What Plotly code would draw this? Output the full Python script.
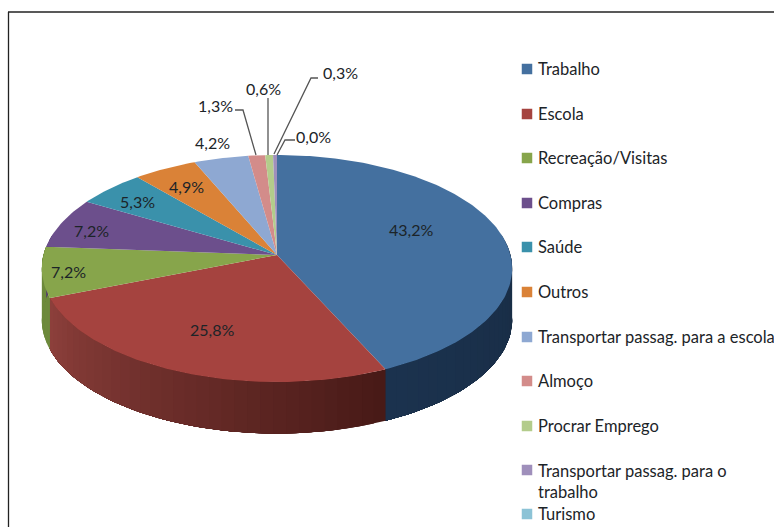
import math
import plotly.graph_objects as go

categories = ["Trabalho", "Escola", "Recreação/Visitas", "Compras", "Saúde", "Outros",
              "Transportar passag. para a escola", "Almoço", "Procrar Emprego",
              "Transportar passag. para o<br>trabalho", "Turismo"]
values = [43.2, 25.8, 7.2, 7.2, 5.3, 4.9, 4.2, 1.3, 0.6, 0.3, 0.0]
labels = ["43,2%", "25,8%", "7,2%", "7,2%", "5,3%", "4,9%", "4,2%", "1,3%", "0,6%", "0,3%", "0,0%"]
colors = ["#44709f", "#a5433f", "#87a54b", "#6c4f8c", "#3a91ab", "#da8237",
          "#8ea8d2", "#d38c8a", "#b3cc8b", "#9f8fbb", "#8cc3d6"]
side_left = ["#1b324e", "#8c3f3b", "#6d8a3c", "#50386c", "#2a6f85", "#a8612a",
             "#6c84a8", "#a86a68", "#8ca468", "#7a6c94", "#6a9aaa"]
side_right = ["#182c44", "#481a17", "#6d8a3c", "#50386c", "#2a6f85", "#a8612a",
              "#6c84a8", "#a86a68", "#8ca468", "#7a6c94", "#6a9aaa"]
label_x = [411, 212, 68, 91, 137, 186, 212, 215, 263, 340, 313]
label_y = [229, 329, 271, 230, 201, 186, 142, 105, 88, 72, 136]
legend_y = [69, 114, 158, 203, 247, 292, 337, 381, 426, 470, 514]
legend_text_y = [69, 114, 158, 203, 247, 292, 337, 381, 426, 481, 514]
leaders = [[(256, 155), (243, 110), (235, 110)],
           [(268, 155), (268, 98)],
           [(274, 154), (311, 78), (318, 78)],
           [(277, 155), (285, 140), (295, 140)]]

CX, CY, RX, RY, K, DEPTH = 277.0, 255.0, 233.5, 111.9, 0.119, 51.5
FONT = "Lato, Carlito, Calibri, sans-serif"
TEXT = "#1c2428"


def project(frac):
    a = 2 * math.pi * frac
    u, v = math.sin(a), math.cos(a)
    w = 1 + K * v
    return CX + RX * u / w, CY - RY * v / w


def hex_mix(c1, c2, t):
    p = [int(c1[i:i + 2], 16) for i in (1, 3, 5)]
    q = [int(c2[i:i + 2], 16) for i in (1, 3, 5)]
    return "#" + "".join(f"{round(a + (b - a) * t):02x}" for a, b in zip(p, q))


fig = go.Figure()
total = sum(values)

spans = []
acc = 0.0
for v in values:
    spans.append((acc / total, (acc + v) / total))
    acc += v


def poly(xs, ys, color):
    fig.add_trace(go.Scatter(x=xs, y=ys, mode="lines", fill="toself", fillcolor=color,
                             line=dict(color=color, width=0),
                             hoverinfo="skip", showlegend=False))


# side wall: each strip runs on to the end of its slice, so the next one overpaints it without seams
for i, (s, e) in enumerate(spans):
    if e <= s or e <= 0.22 or s >= 0.78:
        continue
    s2, e2 = max(s, 0.22), min(e, 0.78)
    n = max(2, int((e2 - s2) * 130))
    for j in range(n):
        f0 = s2 + (e2 - s2) * j / n
        m = max(2, int((e2 - f0) * 200))
        pts = [project(f0 + (e2 - f0) * t / m) for t in range(m + 1)]
        xs = [p[0] for p in pts]
        ys = [p[1] for p in pts]
        col = hex_mix(side_right[i], side_left[i], j / max(1, n - 1))
        poly(xs + xs[::-1] + xs[:1], ys + [y + DEPTH for y in ys[::-1]] + ys[:1], col)

# top surface
for i, (s, e) in enumerate(spans):
    if e <= s:
        continue
    n = max(3, int((e - s) * 360))
    pts = [project(s + (e - s) * j / n) for j in range(n + 1)]
    xs = [CX] + [p[0] for p in pts] + [CX]
    ys = [CY] + [p[1] for p in pts] + [CY]
    poly(xs, ys, colors[i])

# legend swatches
for name, c, y in zip(categories, colors, legend_y):
    fig.add_trace(go.Scatter(x=[527], y=[y], mode="markers", cliponaxis=False,
                             marker=dict(symbol="square", size=10.5, color=c),
                             hoverinfo="skip", showlegend=False, name=name))

annotations = []
for name, y in zip(categories, legend_text_y):
    annotations.append(dict(x=536, y=y, text=name, showarrow=False, xanchor="left", yanchor="middle",
                            align="left", font=dict(family=FONT, size=16.5, color=TEXT)))
for t, x, y in zip(labels, label_x, label_y):
    annotations.append(dict(x=x, y=y, text=t, showarrow=False, xanchor="center", yanchor="middle",
                            font=dict(family=FONT, size=16, color=TEXT)))

for pts in leaders:
    fig.add_trace(go.Scatter(x=[p[0] for p in pts], y=[p[1] for p in pts], mode="lines",
                             line=dict(color="#555555", width=1.3), hoverinfo="skip", showlegend=False))

shapes = [dict(type="line", x0=8.5, x1=8.5, y0=12, y1=527, line=dict(color="#222222", width=1.3)),
          dict(type="line", x0=8, x1=774, y0=12, y1=12, line=dict(color="#222222", width=1.3))]

fig.update_layout(
    width=774, height=527, autosize=False, margin=dict(l=0, r=0, t=0, b=0),
    paper_bgcolor="white", plot_bgcolor="white", showlegend=False,
    xaxis=dict(range=[0, 774], visible=False, fixedrange=True),
    yaxis=dict(range=[527, 0], visible=False, fixedrange=True),
    annotations=annotations, shapes=shapes,
)
fig.write_html("out.html", config={"displayModeBar": False},
               post_script="document.body.style.margin='0';document.body.style.overflow='hidden';")
